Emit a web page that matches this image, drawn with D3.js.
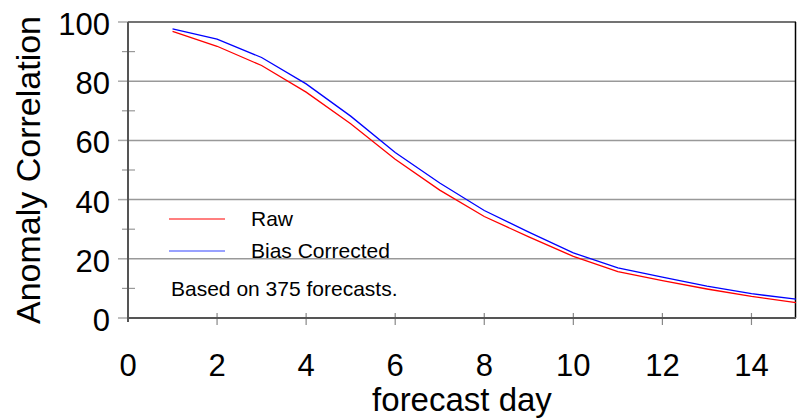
<!DOCTYPE html>
<html>
<head>
<meta charset="utf-8">
<script src="https://cdn.jsdelivr.net/npm/d3@7"></script>
<style>
  body { margin: 0; background: #fff; }
  svg { display: block; font-family: "Liberation Sans", Arial, sans-serif; }
</style>
</head>
<body>
<svg id="chart"></svg>
<script>
// forecast days and anomaly correlation (%)
var days = [1, 2, 3, 4, 5, 6, 7, 8, 9, 10, 11, 12, 13, 14, 15];
var rawAC = [96.8, 91.8, 85.3, 76.3, 65.6, 53.6, 43.2, 34.3, 27.4, 20.8, 15.7, 12.6, 9.8, 7.3, 5.2];
var biasAC = [97.7, 94.2, 88.0, 79.1, 68.2, 55.9, 45.6, 36.3, 29.0, 22.0, 16.9, 13.8, 10.8, 8.2, 6.4];
var xTicks = [0, 2, 4, 6, 8, 10, 12, 14];
var yTicks = [0, 20, 40, 60, 80, 100];
var yMinor = [10, 30, 50, 70, 90];

var width = 797, height = 419;
var margin = {top: 22, right: 1, bottom: 101, left: 128};

var svg = d3.select("#chart")
    .attr("width", width)
    .attr("height", height);

var x = d3.scaleLinear().domain([0, 15]).range([margin.left, width - margin.right]);
var y = d3.scaleLinear().domain([0, 100]).range([height - margin.bottom, margin.top]);

// gridlines
svg.append("g")
    .selectAll("line")
    .data([20, 40, 60, 80])
    .enter().append("line")
    .attr("x1", x(0)).attr("x2", x(15))
    .attr("y1", d => y(d)).attr("y2", d => y(d))
    .attr("stroke", "#999")
    .attr("stroke-width", 1.5);

// y ticks (major stick out left, minor cross the axis)
svg.append("g")
    .selectAll("line")
    .data(yTicks)
    .enter().append("line")
    .attr("x1", x(0) - 10).attr("x2", x(0))
    .attr("y1", d => y(d)).attr("y2", d => y(d))
    .attr("stroke", "#aaa")
    .attr("stroke-width", 1.5);

svg.append("g")
    .selectAll("line")
    .data(yMinor)
    .enter().append("line")
    .attr("x1", x(0) - 6).attr("x2", x(0) + 7)
    .attr("y1", d => y(d)).attr("y2", d => y(d))
    .attr("stroke", "#999")
    .attr("stroke-width", 1.2);

// x ticks
svg.append("g")
    .selectAll("line")
    .data(xTicks.slice(1))
    .enter().append("line")
    .attr("x1", d => x(d)).attr("x2", d => x(d))
    .attr("y1", y(0) - 5).attr("y2", y(0) + 7)
    .attr("stroke", "#888")
    .attr("stroke-width", 1.2);

// frame
svg.append("line")
    .attr("x1", x(0)).attr("x2", x(15))
    .attr("y1", y(100)).attr("y2", y(100))
    .attr("stroke", "#444").attr("stroke-width", 1.5);
svg.append("line")
    .attr("x1", x(15) - 0.5).attr("x2", x(15) - 0.5)
    .attr("y1", y(100)).attr("y2", y(0))
    .attr("stroke", "#000").attr("stroke-width", 1.5);
svg.append("line")
    .attr("x1", x(0)).attr("x2", x(15))
    .attr("y1", y(0)).attr("y2", y(0))
    .attr("stroke", "#555").attr("stroke-width", 2);
svg.append("line")
    .attr("x1", x(0)).attr("x2", x(0))
    .attr("y1", y(100)).attr("y2", y(0) + 4)
    .attr("stroke", "#555").attr("stroke-width", 2);

// tick labels
svg.append("g")
    .selectAll("text")
    .data(yTicks)
    .enter().append("text")
    .attr("x", 110)
    .attr("y", d => y(d) + 13)
    .attr("text-anchor", "end")
    .style("font-size", "31px")
    .text(d => d);

svg.append("g")
    .selectAll("text")
    .data(xTicks)
    .enter().append("text")
    .attr("x", d => x(d))
    .attr("y", 376)
    .attr("text-anchor", "middle")
    .style("font-size", "31px")
    .text(d => d);

// axis titles
svg.append("text")
    .attr("x", (x(0) + x(15)) / 2)
    .attr("y", 411)
    .attr("text-anchor", "middle")
    .style("font-size", "33px")
    .text("forecast day");

svg.append("text")
    .attr("transform", "translate(40," + ((y(0) + y(100)) / 2) + ") rotate(-90)")
    .attr("text-anchor", "middle")
    .style("font-size", "34px")
    .text("Anomaly Correlation");

// series lines
var line = d3.line()
    .x(d => x(d[0]))
    .y(d => y(d[1]));

svg.append("path")
    .datum(d3.zip(days, rawAC))
    .attr("d", line)
    .attr("fill", "none")
    .attr("stroke", "#ff0000")
    .attr("stroke-width", 1.3);

svg.append("path")
    .datum(d3.zip(days, biasAC))
    .attr("d", line)
    .attr("fill", "none")
    .attr("stroke", "#0000ff")
    .attr("stroke-width", 1.3);

// legend
var legend = [{name: "Raw", color: "#ff0000", y: 219}, {name: "Bias Corrected", color: "#3344ff", y: 251}];
legend.forEach(function(l) {
    svg.append("line")
        .attr("x1", 169).attr("x2", 225)
        .attr("y1", l.y).attr("y2", l.y)
        .attr("stroke", l.color)
        .attr("stroke-width", 1.2);
    svg.append("text")
        .attr("x", 251)
        .attr("y", l.y + 7)
        .style("font-size", "21px")
        .text(l.name);
});

svg.append("text")
    .attr("x", 171)
    .attr("y", 296)
    .style("font-size", "21px")
    .text("Based on 375 forecasts.");
</script>
</body>
</html>
